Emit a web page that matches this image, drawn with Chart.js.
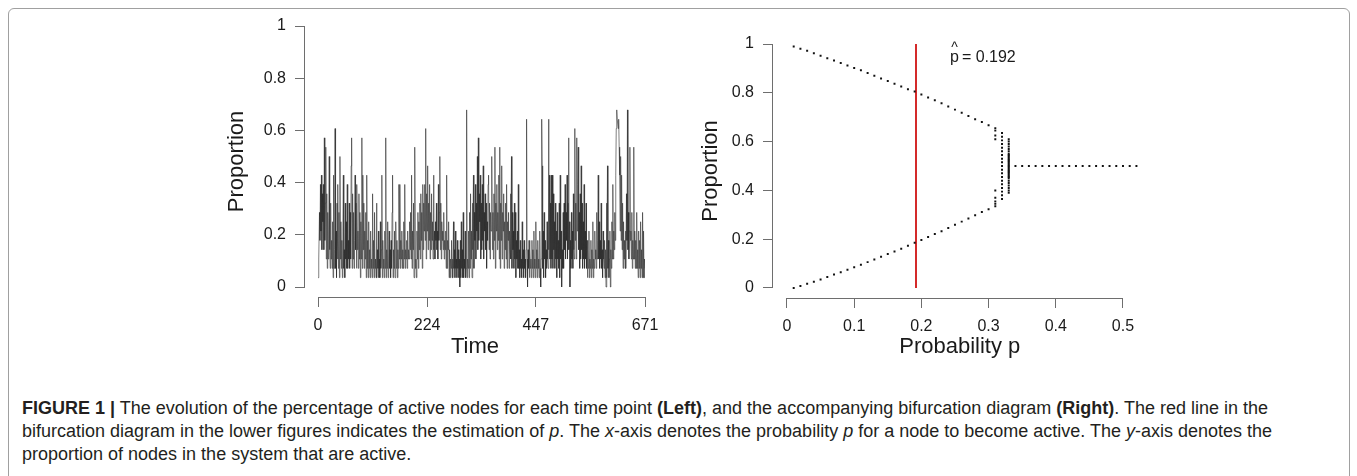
<!DOCTYPE html>
<html>
<head>
<meta charset="utf-8">
<script src="https://cdn.jsdelivr.net/npm/chart.js@4.4.1/dist/chart.umd.min.js"></script>
<style>
    body { margin: 0; background: #fff; width: 1357px; height: 476px; overflow: hidden; position: relative; }
    .frame { position: absolute; left: 8px; top: 8px; width: 1340px; height: 490px; border: 1.5px solid #a0a0a0; border-radius: 6px; }
    canvas { position: absolute; top: 0; }
    #timeChart { left: 150px; }
    #bifChart { left: 690px; }
    .caption { position: absolute; left: 22px; top: 397px; font-family: "Liberation Sans", Arial, sans-serif; font-size: 18px; line-height: 23px; color: #231f20; white-space: nowrap; }
</style>
</head>
<body>
<div class="frame"></div>
<canvas id="timeChart" width="520" height="360"></canvas>
<canvas id="bifChart" width="500" height="360"></canvas>
<div class="caption"><b>FIGURE 1 |</b> The evolution of the percentage of active nodes for each time point <b>(Left)</b>, and the accompanying bifurcation diagram <b>(Right)</b>. The red line in the<br>bifurcation diagram in the lower figures indicates the estimation of <i>p</i>. The <i>x</i>-axis denotes the probability <i>p</i> for a node to become active. The <i>y</i>-axis denotes the<br>proportion of nodes in the system that are active.</div>

<script>
/*jshint esversion: 8 */

// left panel: number of active nodes (out of 28) at each time point 0..671

const NODE_COUNT = 28;
const activeNodes = [
    1,3,3,8,5,11, 6,12,4,10,7,11, 4,16,5,9,15,3, 10,2,8,3,6,14,
    4,2,9,3,5,2, 7,1,12,2,4,17, 2,6,1,9,3,11, 2,8,1,14,3,7,
    2,5,1,6,12,2, 4,1,9,3,7,2, 11,2,5,3,9,2, 8,3,13,16,2,10,
    3,8,2,5,12,4, 9,2,11,4,6,2, 10,3,8,1,7,3, 16,2,12,4,9,2,
    6,3,8,1,12,2, 5,1,7,2,4,1, 6,2,3,1,10,2, 5,1,8,2,3,1,
    9,1,4,2,6,1, 3,1,7,2,4,12, 1,5,2,3,1,6, 2,16,1,4,2,7,
    1,3,6,2,4,1, 5,2,8,12,1,4, 2,6,1,3,7,2, 5,1,4,2,11,3,
    11,2,5,3,6,2, 4,2,7,3,11,2, 4,3,5,2,6,3, 4,3,7,4,8,3,
    12,2,6,4,9,1, 5,15,2,3,1,6, 3,8,2,7,4,9, 3,10,5,8,2,11,
    4,9,6,11,5,17, 3,10,6,13,4,9, 5,11,3,8,4,10, 5,7,3,12,4,6,
    3,7,5,9,4,6, 3,11,5,8,14,4, 9,3,7,5,6,4, 8,3,5,4,6,2,
    12,2,5,4,7,1, 4,1,3,2,5,1, 3,1,7,2,4,1, 6,2,3,1,5,2,
    4,1,3,0,5,1, 7,2,4,1,8,1, 3,2,6,1,2,19, 1,3,2,6,1,8,
    2,10,3,6,1,9, 4,12,2,8,5,11, 3,9,6,14,4,16, 5,10,7,12,3,9,
    4,11,5,13,3,8, 6,10,4,9,2,7, 5,11,12,4,9,3, 8,6,10,14,4,8,
    3,10,5,15,2,9, 6,11,4,8,5,12, 3,15,2,9,5,13, 3,8,6,10,2,7,
    4,9,3,11,2,7, 5,8,2,6,4,10, 3,14,2,8,4,6, 2,9,3,8,1,5,
    3,6,2,11,2,4, 1,5,2,3,1,7, 2,4,1,5,2,3, 1,4,18,3,0,4,
    2,5,1,4,2,3, 1,5,2,4,1,6, 2,3,1,7,2,4, 1,5,2,3,1,6,
    2,0,3,18,13,2, 6,1,8,3,5,1, 4,2,7,3,2,18, 4,12,3,9,2,12,
    3,12,2,10,4,7, 2,9,3,6,1,8, 3,5,2,9,1,12, 3,6,0,4,2,8,
    2,9,4,11,3,8, 5,12,3,9,16,4, 7,0,5,2,8,3, 6,2,10,4,3,17,
    5,9,3,16,6,11, 15,4,8,2,10,3, 13,4,9,2,7,3, 11,2,6,3,9,2,
    5,1,4,2,6,1, 3,2,5,1,4,2, 7,1,3,2,6,3, 4,2,8,3,5,12,
    3,7,2,5,3,9, 2,4,1,6,3,2, 5,1,4,0,9,1, 13,2,5,1,3,6,
    0,4,2,7,3,11, 3,6,4,8,5,12, 17,19,18,18,17,18, 15,12,6,14,5,12,
    4,9,2,7,3,5, 2,6,2,10,5,19, 4,8,3,6,15,5, 6,3,8,2,5,3,
    15,3,6,2,5,2, 8,2,4,1,6,2, 5,1,7,2,4,1, 8,1,6,1,3,2
];
const timeTicks = [0, 224, 447, 671];
const proportionTicks = [0, 0.2, 0.4, 0.6, 0.8, 1];

// right panel: bifurcation diagram

const branchP = [0.01, 0.02, 0.03, 0.04, 0.05, 0.06, 0.07, 0.08, 0.09, 0.10, 0.11, 0.12, 0.13, 0.14, 0.15, 0.16,
    0.17, 0.18, 0.19, 0.20, 0.21, 0.22, 0.23, 0.24, 0.25, 0.26, 0.27, 0.28, 0.29, 0.30, 0.31];
const upperBranch = [0.99, 0.981, 0.972, 0.962, 0.952, 0.942, 0.932, 0.922, 0.912, 0.902, 0.892, 0.881, 0.87, 0.859, 0.848, 0.837,
    0.826, 0.815, 0.805, 0.793, 0.781, 0.769, 0.757, 0.744, 0.731, 0.718, 0.705, 0.692, 0.68, 0.667, 0.655];
const lowerBranch = [0.0, 0.008, 0.017, 0.026, 0.035, 0.045, 0.055, 0.065, 0.075, 0.085, 0.095, 0.106, 0.117, 0.128, 0.139, 0.15,
    0.161, 0.173, 0.185, 0.197, 0.209, 0.221, 0.233, 0.246, 0.259, 0.272, 0.285, 0.298, 0.311, 0.323, 0.335];
const scatterAt031 = [0.645, 0.625, 0.61, 0.40, 0.37, 0.355, 0.345];
const scatterAt032 = [0.635, 0.62, 0.605, 0.59, 0.575, 0.56, 0.545, 0.53, 0.515, 0.50, 0.485, 0.47, 0.455, 0.44, 0.425,
    0.41, 0.395, 0.38, 0.365];
const scatterAt033 = [0.61, 0.60, 0.59, 0.58, 0.57, 0.56, 0.55, 0.545, 0.54, 0.535, 0.53, 0.525, 0.52, 0.515, 0.51, 0.505,
    0.50, 0.495, 0.49, 0.485, 0.48, 0.475, 0.47, 0.465, 0.46, 0.455, 0.45, 0.44, 0.43, 0.42, 0.41, 0.40, 0.39];
const plateauP = [0.34, 0.35, 0.36, 0.37, 0.38, 0.39, 0.40, 0.41, 0.42, 0.43, 0.44, 0.45, 0.46, 0.47, 0.48, 0.49, 0.50, 0.51, 0.52];
const plateauValues = [0.5, 0.5, 0.5, 0.5, 0.5, 0.5, 0.5, 0.5, 0.5, 0.5, 0.5, 0.5, 0.5, 0.5, 0.5, 0.5, 0.5, 0.5, 0.5];
const probabilityTicks = [0, 0.1, 0.2, 0.3, 0.4, 0.5];
const pHat = 0.192;

const AXIS_COLOR = '#6e6e6e';
const TEXT_COLOR = '#1a1a1a';
const FONT = '"Liberation Sans", Arial, sans-serif';

Chart.defaults.font.family = FONT;
Chart.defaults.color = TEXT_COLOR;

// R style axes: the axis line only runs from the first to the last tick

const rAxes = {
    id: 'rAxes',
    afterDraw(chart, args, opts) {
        const { ctx, chartArea, scales: { x, y } } = chart;
        ctx.save();
        ctx.strokeStyle = AXIS_COLOR;
        ctx.lineWidth = 1;
        ctx.beginPath();
        const by = Math.round(chartArea.bottom) + 0.5;
        ctx.moveTo(x.getPixelForValue(opts.xTicks[0]), by);
        ctx.lineTo(x.getPixelForValue(opts.xTicks[opts.xTicks.length - 1]), by);
        const lx = Math.round(chartArea.left) - 0.5;
        ctx.moveTo(lx, y.getPixelForValue(opts.yTicks[0]));
        ctx.lineTo(lx, y.getPixelForValue(opts.yTicks[opts.yTicks.length - 1]));
        ctx.stroke();
        ctx.restore();
    }
};

// the "p hat = 0.192" note of the right panel

const pHatNote = {
    id: 'pHatNote',
    afterDraw(chart, args, opts) {
        if (!opts.text) { return; }
        const { ctx, scales: { x, y } } = chart;
        const px = x.getPixelForValue(opts.x);
        const py = y.getPixelForValue(opts.y);
        ctx.save();
        ctx.font = '16px ' + FONT;
        ctx.fillStyle = TEXT_COLOR;
        ctx.textBaseline = 'alphabetic';
        const pw = ctx.measureText('p').width;
        ctx.fillText('p', px, py);
        ctx.font = '14px ' + FONT;
        const cw = ctx.measureText('^').width;
        ctx.fillText('^', px + (pw - cw) / 2, py - 10);
        ctx.font = '16px ' + FONT;
        ctx.fillText(opts.text, px + pw + 3, py);
        ctx.restore();
    }
};

function axisScale(ticks, min, max, title, titlePad, size) {
    return {
        type: 'linear',
        min: min,
        max: max,
        afterBuildTicks: scale => { scale.ticks = ticks.map(v => ({ value: v })); },
        afterFit: scale => {
            if (scale.isHorizontal()) { scale.height = size; } else { scale.width = size; }
        },
        grid: { display: true, drawOnChartArea: false, drawTicks: true, tickLength: 10, color: AXIS_COLOR, lineWidth: 1 },
        border: { display: false },
        ticks: {
            autoSkip: false,
            maxRotation: 0,
            padding: 9,
            color: TEXT_COLOR,
            font: { size: 16 },
            callback: v => String(v)
        },
        title: {
            display: true,
            text: title,
            color: TEXT_COLOR,
            font: { size: 22, lineHeight: 1 },
            padding: titlePad
        }
    };
}

new Chart(document.getElementById('timeChart'), {
    type: 'line',
    data: {
        datasets: [{
            data: activeNodes.map((k, t) => ({ x: t, y: k / NODE_COUNT })),
            borderColor: '#2a2a2a',
            borderWidth: 0.6,
            pointRadius: 0,
            tension: 0,
            fill: false
        }]
    },
    options: {
        responsive: false,
        animation: false,
        events: [],
        devicePixelRatio: 1,
        layout: { padding: { top: 26, right: 25, bottom: 0, left: 0 } },
        plugins: {
            legend: { display: false },
            tooltip: { enabled: false },
            rAxes: { xTicks: timeTicks, yTicks: proportionTicks },
            pHatNote: {}
        },
        scales: {
            x: axisScale(timeTicks, -26.7, 671, 'Time', { top: 0, bottom: 2 }, 63),
            y: axisScale(proportionTicks, -0.0383, 1, 'Proportion', { top: 76, bottom: 0 }, 155)
        }
    },
    plugins: [rAxes, pHatNote]
});

const toPoints = (xs, ys) => ys.map((v, i) => ({ x: xs[i], y: v }));
const column = (p, ys) => ys.map(v => ({ x: p, y: v }));

const bifPoints = [].concat(
    toPoints(branchP, upperBranch),
    toPoints(branchP, lowerBranch),
    column(0.31, scatterAt031),
    column(0.32, scatterAt032),
    column(0.33, scatterAt033),
    toPoints(plateauP, plateauValues)
);

new Chart(document.getElementById('bifChart'), {
    type: 'scatter',
    data: {
        datasets: [
            {
                data: bifPoints,
                pointStyle: 'rect',
                pointRadius: 1.4,
                backgroundColor: '#111',
                borderWidth: 0
            },
            {
                type: 'line',
                data: [{ x: pHat, y: 0 }, { x: pHat, y: 1 }],
                borderColor: '#d42a2a',
                borderWidth: 2,
                pointRadius: 0
            }
        ]
    },
    options: {
        responsive: false,
        animation: false,
        events: [],
        devicePixelRatio: 1,
        layout: { padding: { top: 44, right: 43.5, bottom: 0, left: 0 } },
        plugins: {
            legend: { display: false },
            tooltip: { enabled: false },
            rAxes: { xTicks: probabilityTicks, yTicks: proportionTicks },
            pHatNote: { x: 0.2426, y: 0.925, text: '= 0.192' }
        },
        scales: {
            x: axisScale(probabilityTicks, -0.0208, 0.535, 'Probability p', { top: 0, bottom: 2 }, 62),
            y: axisScale(proportionTicks, -0.041, 1, 'Proportion', { top: 10, bottom: 0 }, 83)
        }
    },
    plugins: [rAxes, pHatNote]
});
</script>
</body>
</html>
